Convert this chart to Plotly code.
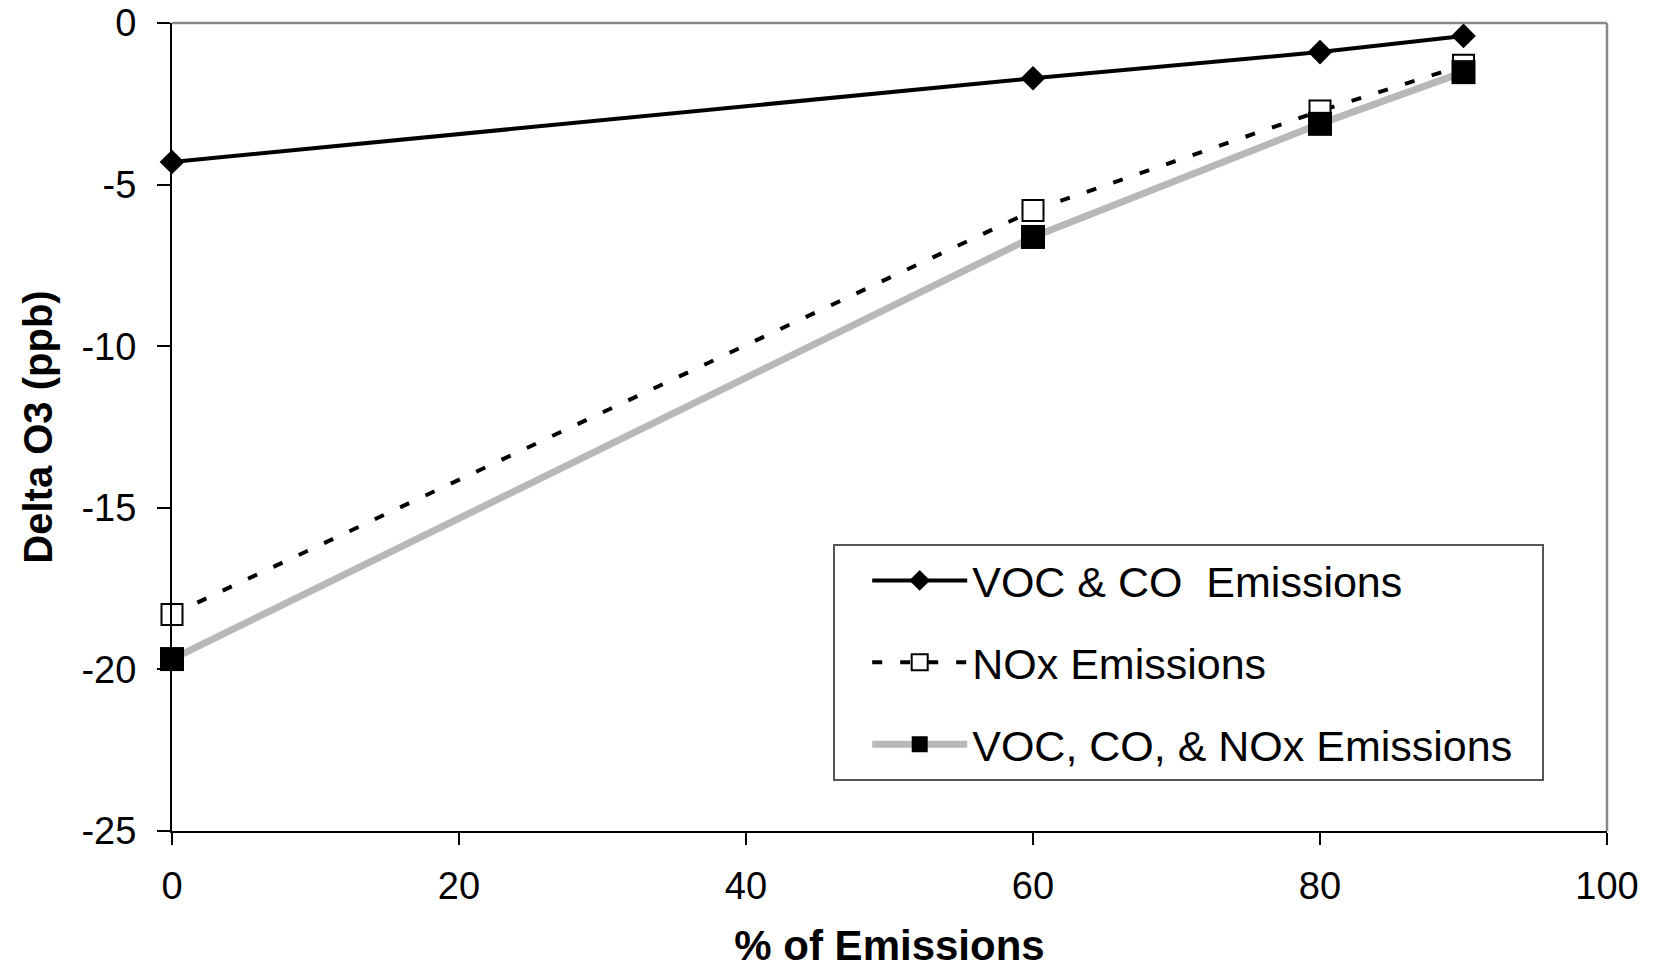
import plotly.graph_objects as go

pct_emissions = [0, 60, 80, 90]
voc_co = [-4.3, -1.71, -0.9, -0.4]
nox = [-18.3, -5.8, -2.72, -1.31]
voc_co_nox = [-19.68, -6.62, -3.12, -1.52]

names = ["VOC & CO  Emissions", "NOx Emissions", "VOC, CO, & NOx Emissions"]
x_ticks = [0, 20, 40, 60, 80, 100]
y_ticks = [0, -5, -10, -15, -20, -25]
y_tick_text = ["0", "-5", "-10", "-15", "-20", "-25"]

FONT = "Liberation Sans, Arial, sans-serif"
NB = "\u00a0"

fig = go.Figure()
fig.add_trace(go.Scatter(
    x=pct_emissions, y=voc_co, name=names[0], mode="lines+markers",
    line=dict(color="black", width=4),
    marker=dict(symbol="diamond", size=19, color="black"),
    cliponaxis=False, legendgroup="a"))
fig.add_trace(go.Scatter(
    x=pct_emissions, y=nox, name=names[1], mode="lines+markers",
    line=dict(color="black", width=4, dash="10px,18px"),
    marker=dict(symbol="square", size=21, color="white", line=dict(color="black", width=2)),
    cliponaxis=False, legendgroup="b"))
fig.add_trace(go.Scatter(
    x=pct_emissions, y=voc_co_nox, name=names[2] + NB * 2, mode="lines+markers",
    line=dict(color="#b8b8b8", width=7),
    marker=dict(symbol="square", size=24, color="black"),
    cliponaxis=False, legendgroup="c"))

fig.update_layout(
    width=1655, height=969,
    margin=dict(l=172, r=48, t=23, b=138, autoexpand=False),
    paper_bgcolor="white", plot_bgcolor="white",
    font=dict(family=FONT, color="black", size=38),
    showlegend=True,
    legend=dict(
        x=0.4606, y=0.3552, xanchor="left", yanchor="top",
        bordercolor="#555555", borderwidth=2, bgcolor="white",
        font=dict(size=43, family=FONT), itemwidth=95, tracegroupgap=23,
        title=dict(text=NB * 2, side="left", font=dict(size=40, family=FONT)),
    ),
    xaxis=dict(
        range=[0, 100], tickvals=x_ticks, showgrid=False, zeroline=False,
        showline=True, linecolor="black", linewidth=2, automargin=False,
        ticks="outside", ticklen=12, tickwidth=1.5, tickcolor="black",
        tickfont=dict(size=38), ticklabelstandoff=8,
        title=dict(text="<b>% of Emissions</b>", font=dict(size=42), standoff=29),
    ),
    yaxis=dict(
        range=[-25, 0], tickvals=y_ticks, ticktext=y_tick_text, showgrid=False, zeroline=False,
        showline=True, linecolor="black", linewidth=2, automargin=False,
        ticks="outside", ticklen=13, tickwidth=1.5, tickcolor="black",
        tickfont=dict(size=38), ticklabelstandoff=13,
        title=dict(text="<b>Delta O3 (ppb)</b>", font=dict(size=40), standoff=16),
    ),
    shapes=[
        dict(type="line", xref="paper", yref="paper", x0=0, x1=1, y0=1, y1=1,
             line=dict(color="#888888", width=2.5), layer="below"),
        dict(type="line", xref="paper", yref="paper", x0=1, x1=1, y0=0, y1=1,
             line=dict(color="#888888", width=2.5), layer="below"),
    ],
)

fig.write_html("out.html")
